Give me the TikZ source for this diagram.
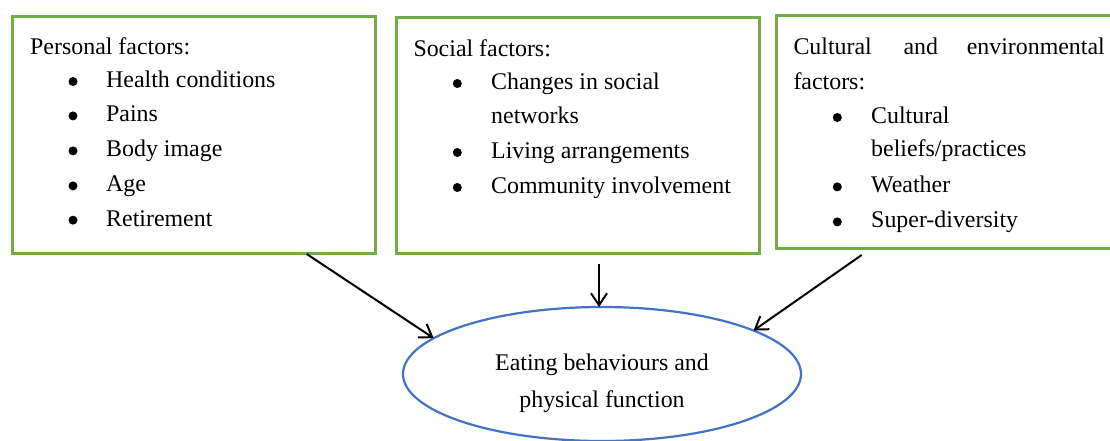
\documentclass[tikz,border=0pt]{standalone}
\usepackage{fontspec}
\setmainfont{Liberation Serif}
\usetikzlibrary{shapes.geometric,arrows.meta}
\definecolor{boxgreen}{HTML}{70AD47}
\definecolor{ellblue}{HTML}{4472C4}
\begin{document}
\begin{tikzpicture}[x=1pt,y=-1pt,
  fbox/.style={draw=boxgreen,line width=3pt,rectangle,inner sep=0pt,outer sep=0pt,anchor=north west},
  txt/.style={anchor=base west,inner sep=0pt,font=\fontsize{23.9}{28}\selectfont},
  ctxt/.style={anchor=base,inner sep=0pt,font=\fontsize{23.9}{28}\selectfont},
  bul/.style={circle,fill=black,inner sep=0pt,minimum size=9pt},
  arr/.style={draw=black,line width=2pt,-{Straight Barb[length=12pt,width=16pt,line width=2pt]}}
]
\useasboundingbox (0,0) rectangle (1110,441);
\fill[white] (0,0) rectangle (1110,441);

% boxes
\node[fbox,minimum width=363pt,minimum height=237pt] (b1) at (12.5,16.5) {};
\node[fbox,minimum width=363pt,minimum height=235.2pt] (b2) at (396.8,18) {};
\node[fbox,minimum width=340pt,minimum height=233.4pt] (b3) at (776.8,15.3) {};

% box 1 text
\node[txt] (t10) at (30,55) {Personal factors:};
\node[txt] (t11) at (106,87.3) {Health conditions};
\node[txt] (t12) at (106,121.7) {Pains};
\node[txt] (t13) at (106,156.7) {Body image};
\node[txt] (t14) at (106,191.7) {Age};
\node[txt] (t15) at (106,226) {Retirement};
\node[bul] (d11) at (73,81.5) {};
\node[bul] (d12) at (73,115.9) {};
\node[bul] (d13) at (73,150.9) {};
\node[bul] (d14) at (73,185.9) {};
\node[bul] (d15) at (73,220.2) {};

% box 2 text
\node[txt] (t20) at (413.3,56.7) {Social factors:};
\node[txt] (t21) at (491,89.3) {Changes in social};
\node[txt] (t22) at (491,124) {networks};
\node[txt] (t23) at (491,158.3) {Living arrangements};
\node[txt] (t24) at (491,193.3) {Community involvement};
\node[bul] (d21) at (457.3,83.5) {};
\node[bul] (d23) at (457.3,152.5) {};
\node[bul] (d24) at (457.3,187.5) {};

% box 3 text
\node[txt] (t30a) at (793.3,55) {Cultural};
\node[txt] (t30b) at (903.3,55) {and};
\node[txt,anchor=base east] (t30c) at (1105,55) {environmental};
\node[txt] (t30d) at (793.3,90) {factors:};
\node[txt] (t31) at (871,123.3) {Cultural};
\node[txt] (t32) at (871,156.7) {beliefs/practices};
\node[txt] (t33) at (871,192.7) {Weather};
\node[txt] (t34) at (871,227.7) {Super-diversity};
\node[bul] (d31) at (837.3,117.5) {};
\node[bul] (d33) at (837.3,186.9) {};
\node[bul] (d34) at (837.3,221.9) {};

% ellipse
\node[ellipse,draw=ellblue,line width=2.2pt,minimum width=398pt,minimum height=134pt,inner sep=0pt,outer sep=0pt] (el) at (602,374) {};
\node[ctxt] (e1) at (602,370.7) {Eating behaviours and};
\node[ctxt] (e2) at (602,407.3) {physical function};

% arrows
\coordinate (a1s) at ([xshift=112.7pt,yshift=-0.5pt]b1.south);
\coordinate (a2s) at ([xshift=20.7pt,yshift=-10.8pt]b2.south);
\coordinate (a3s) at ([xshift=84.9pt,yshift=-6.3pt]b3.south west);
\draw[arr] (a1s) -- (el.168);
\draw[arr] (a2s) -- (a2s |- el.north);
\draw[arr] (a3s) -- (el.16);
\end{tikzpicture}
\end{document}
